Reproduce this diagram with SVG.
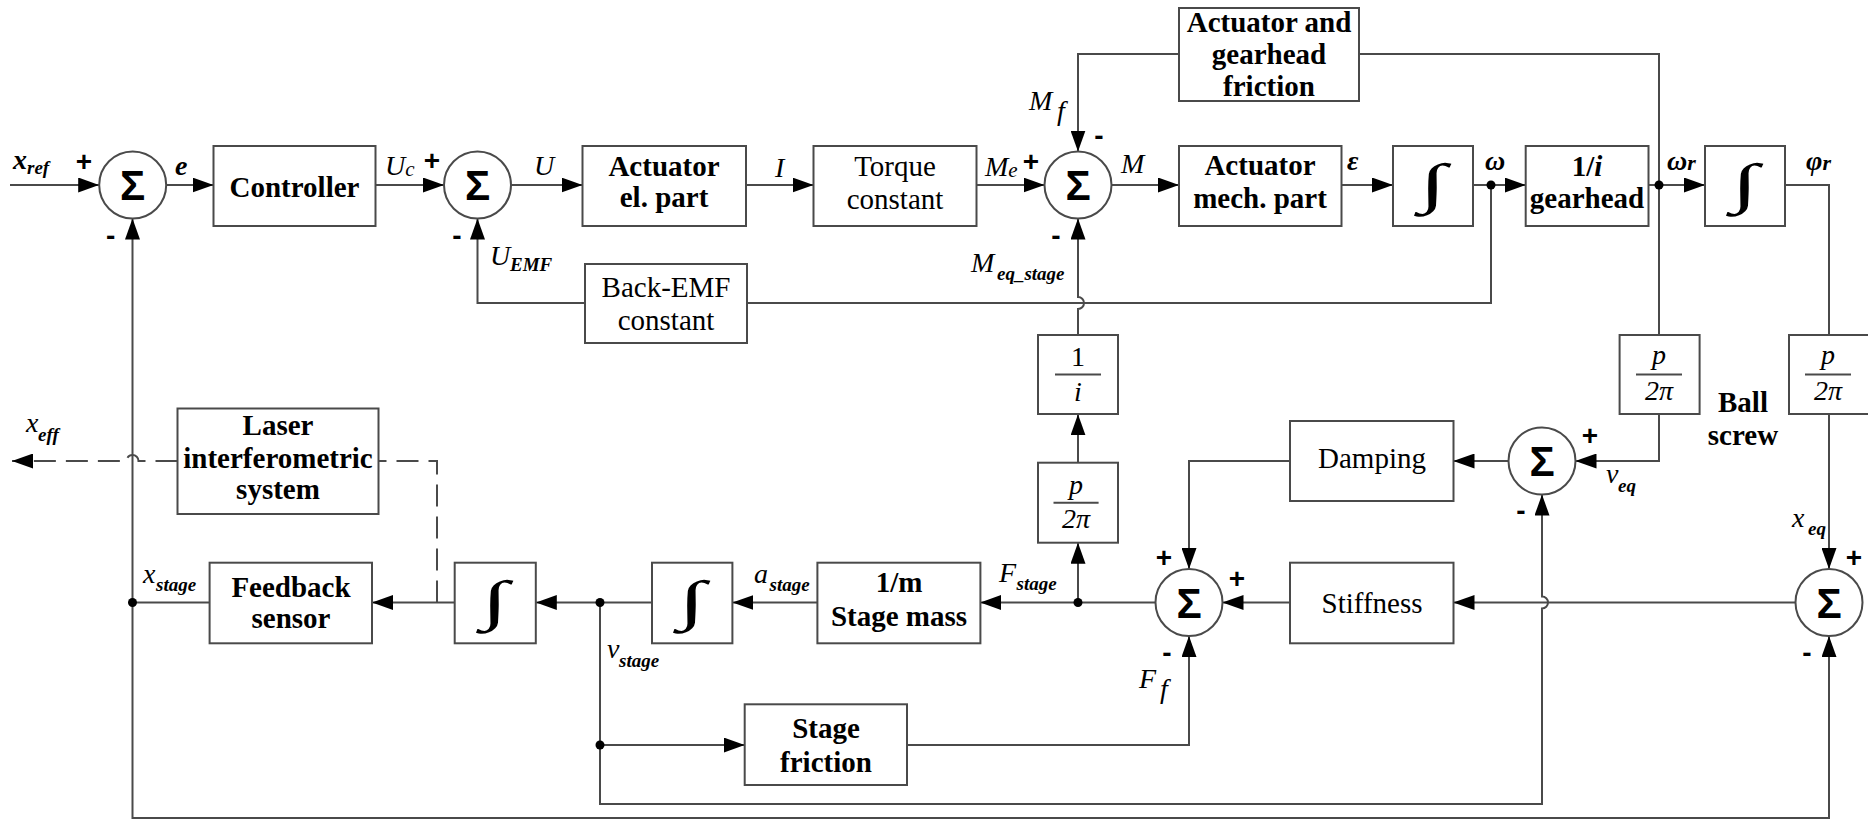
<svg xmlns="http://www.w3.org/2000/svg" width="1868" height="820" viewBox="0 0 1868 820">
<style>
.ln{fill:none;stroke:#4a4a4a;stroke-width:2}
.ds{fill:none;stroke:#4a4a4a;stroke-width:2;stroke-dasharray:22 10}
.bx{fill:#fff;stroke:#4a4a4a;stroke-width:2}
.bt{font-family:"Liberation Serif",serif;font-weight:bold;font-size:29px;text-anchor:middle;fill:#000}
.nt{font-family:"Liberation Serif",serif;font-size:29px;text-anchor:middle;fill:#000}
.lb{font-family:"Liberation Serif",serif;font-style:italic;font-size:28px;fill:#000}
.lbb{font-family:"Liberation Serif",serif;font-style:italic;font-weight:bold;font-size:28px;fill:#000}
.sb{font-family:"Liberation Serif",serif;font-style:italic;font-weight:bold;font-size:19px;fill:#000}
.pm{font-family:"Liberation Sans",sans-serif;font-weight:bold;font-size:28px;text-anchor:middle;dominant-baseline:central;fill:#000}
.sg{font-family:"Liberation Sans",sans-serif;font-weight:bold;font-size:42px;text-anchor:middle;fill:#000}
.ig{font-family:"Liberation Serif",serif;font-size:55px;text-anchor:middle;fill:#000}
.fr{font-family:"Liberation Serif",serif;font-style:italic;font-size:28px;text-anchor:middle;fill:#000}
.fn{font-family:"Liberation Serif",serif;font-size:28px;text-anchor:middle;fill:#000}
.dot{fill:#000}
</style>
<defs>
<marker id="ar" viewBox="0 0 21 15" refX="21" refY="7.5" markerWidth="21" markerHeight="15" markerUnits="userSpaceOnUse" orient="auto">
<path d="M0,0 L21,7.5 L0,15 z" fill="#000"/>
</marker>
</defs>
<rect width="1868" height="820" fill="#fff"/>

<g id="connectors">
<path class="ln" d="M10,185 H99.2" marker-end="url(#ar)"/>
<path class="ln" d="M166.2,185 H213.5" marker-end="url(#ar)"/>
<path class="ln" d="M375.6,185 H444" marker-end="url(#ar)"/>
<path class="ln" d="M511,185 H582.5" marker-end="url(#ar)"/>
<path class="ln" d="M746,185 H813.5" marker-end="url(#ar)"/>
<path class="ln" d="M976.5,185 H1044.5" marker-end="url(#ar)"/>
<path class="ln" d="M1111.5,185 H1179" marker-end="url(#ar)"/>
<path class="ln" d="M1341.5,185 H1393" marker-end="url(#ar)"/>
<path class="ln" d="M1473,185 H1525.7" marker-end="url(#ar)"/>
<path class="ln" d="M1648.5,185 H1705" marker-end="url(#ar)"/>
<path class="ln" d="M1785,185 H1829 V335"/>
<path class="ln" d="M1659,185 V54 H1359"/>
<path class="ln" d="M1179,54 H1078 V151.5" marker-end="url(#ar)"/>
<path class="ln" d="M1659,185 V335"/>
<path class="ln" d="M1659,414 V461 H1575.5" marker-end="url(#ar)"/>
<path class="ln" d="M1829,414 V569" marker-end="url(#ar)"/>
<path class="ln" d="M1491,185 V303 H747"/>
<path class="ln" d="M585,303 H477.5 V218.5" marker-end="url(#ar)"/>
<path class="ln" d="M1078,335 V309 A6 6 0 0 0 1078 297 V218.5" marker-end="url(#ar)"/>
<path class="ln" d="M1078,462.7 V414.3" marker-end="url(#ar)"/>
<path class="ln" d="M1078,602.5 V542.7" marker-end="url(#ar)"/>
<path class="ln" d="M1155.5,602.5 H980.3" marker-end="url(#ar)"/>
<path class="ln" d="M817.4,602.5 H732.4" marker-end="url(#ar)"/>
<path class="ln" d="M652,602.5 H535.8" marker-end="url(#ar)"/>
<path class="ln" d="M454.7,602.5 H372" marker-end="url(#ar)"/>
<path class="ln" d="M209.6,602.5 H132.5"/>
<path class="ln" d="M132.5,602.5 V218.5" marker-end="url(#ar)"/>
<path class="ln" d="M132.5,602.5 V818 H1829 V636" marker-end="url(#ar)"/>
<path class="ln" d="M600,602.5 V804 H1542 V608.5 A6 6 0 0 0 1542 596.5 V494.5" marker-end="url(#ar)"/>
<path class="ln" d="M600,745 H744.7" marker-end="url(#ar)"/>
<path class="ln" d="M907,745 H1189 V636" marker-end="url(#ar)"/>
<path class="ln" d="M1508.5,461 H1453.5" marker-end="url(#ar)"/>
<path class="ln" d="M1290,461 H1189 V569" marker-end="url(#ar)"/>
<path class="ln" d="M1795.5,602.5 H1453.5" marker-end="url(#ar)"/>
<path class="ln" d="M1290,602.5 H1222.5" marker-end="url(#ar)"/>
<path class="ds" d="M437,602.5 V461 H379"/>
<path class="ds" d="M177.5,461 H138.5 A6 6 0 0 0 126.5 461 H12" marker-end="url(#ar)"/>
<circle class="dot" cx="1491" cy="185" r="4.5"/>
<circle class="dot" cx="1659" cy="185" r="4.5"/>
<circle class="dot" cx="1078" cy="602.5" r="4.5"/>
<circle class="dot" cx="600" cy="602.5" r="4.5"/>
<circle class="dot" cx="600" cy="745" r="4.5"/>
<circle class="dot" cx="132.5" cy="602.5" r="4.5"/>
</g>

<g id="sum1"><circle class="bx" cx="132.7" cy="185" r="33.5"/><text class="sg" x="132.7" y="200">Σ</text></g>
<g id="sum2"><circle class="bx" cx="477.5" cy="185" r="33.5"/><text class="sg" x="477.5" y="200">Σ</text></g>
<g id="sum3"><circle class="bx" cx="1078" cy="185" r="33.5"/><text class="sg" x="1078" y="200">Σ</text></g>
<g id="sumV"><circle class="bx" cx="1542" cy="461" r="33.5"/><text class="sg" x="1542" y="476">Σ</text></g>
<g id="sumF"><circle class="bx" cx="1189" cy="602.5" r="33.5"/><text class="sg" x="1189" y="617.5">Σ</text></g>
<g id="sumX"><circle class="bx" cx="1829" cy="602.5" r="33.5"/><text class="sg" x="1829" y="617.5">Σ</text></g>

<g id="controller"><rect class="bx" x="213.5" y="146" width="162" height="80"/><text class="bt" x="294.5" y="197">Controller</text></g>
<g id="act_el"><rect class="bx" x="582.5" y="146" width="163.5" height="80"/><text class="bt" x="664" y="176">Actuator</text><text class="bt" x="664" y="207">el. part</text></g>
<g id="torque"><rect class="bx" x="813.5" y="146" width="163" height="80"/><text class="nt" x="895" y="176">Torque</text><text class="nt" x="895" y="209">constant</text></g>
<g id="friction"><rect class="bx" x="1179" y="8" width="180" height="93"/><text class="bt" x="1269" y="32">Actuator and</text><text class="bt" x="1269" y="64">gearhead</text><text class="bt" x="1269" y="96">friction</text></g>
<g id="act_mech"><rect class="bx" x="1179" y="146" width="162.5" height="80"/><text class="bt" x="1260" y="175">Actuator</text><text class="bt" x="1260" y="208">mech. part</text></g>
<g id="int1"><rect class="bx" x="1393" y="146" width="80" height="80"/><text class="ig" transform="translate(1433,202) scale(1.8,1)">∫</text></g>
<g id="gearhead"><rect class="bx" x="1525.7" y="146" width="122.8" height="80"/><text class="bt" x="1587" y="176">1/<tspan font-style="italic">i</tspan></text><text class="bt" x="1587" y="208">gearhead</text></g>
<g id="int2"><rect class="bx" x="1705" y="146" width="80" height="80"/><text class="ig" transform="translate(1745,202) scale(1.8,1)">∫</text></g>
<g id="backemf"><rect class="bx" x="585" y="264" width="162" height="79"/><text class="nt" x="666" y="297">Back-EMF</text><text class="nt" x="666" y="330">constant</text></g>
<g id="inv_i"><rect class="bx" x="1038" y="335" width="80" height="79"/><text class="fn" x="1078" y="366">1</text><line class="ln" x1="1055" y1="374.5" x2="1101" y2="374.5"/><text class="fr" x="1078" y="401">i</text></g>
<g id="p2pi_3"><rect class="bx" x="1038" y="462.7" width="80" height="80"/><text class="fr" x="1076" y="494">p</text><line class="ln" x1="1053.5" y1="502.7" x2="1098.6" y2="502.7"/><text class="fr" x="1076" y="528">2π</text></g>
<g id="p2pi_1"><rect class="bx" x="1619.6" y="335" width="80" height="79"/><text class="fr" x="1659" y="364">p</text><line class="ln" x1="1636" y1="374.5" x2="1682" y2="374.5"/><text class="fr" x="1659" y="400">2π</text></g>
<g id="p2pi_2"><rect class="bx" x="1789" y="335" width="80" height="79"/><text class="fr" x="1828" y="364">p</text><line class="ln" x1="1805" y1="374.5" x2="1851" y2="374.5"/><text class="fr" x="1828" y="400">2π</text></g>
<g id="ballscrew"><text class="bt" x="1743" y="412">Ball</text><text class="bt" x="1743" y="445">screw</text></g>
<g id="damping"><rect class="bx" x="1290" y="421" width="163.5" height="80"/><text class="nt" x="1372" y="468">Damping</text></g>
<g id="stiffness"><rect class="bx" x="1290" y="562.7" width="163.5" height="80.6"/><text class="nt" x="1372" y="613">Stiffness</text></g>
<g id="stagemass"><rect class="bx" x="817.4" y="562.7" width="163" height="80.6"/><text class="bt" x="899" y="592">1/m</text><text class="bt" x="899" y="626">Stage mass</text></g>
<g id="int3"><rect class="bx" x="652" y="562.7" width="80.4" height="80.6"/><text class="ig" transform="translate(692,619) scale(1.8,1)">∫</text></g>
<g id="int4"><rect class="bx" x="454.7" y="562.7" width="81.1" height="80.6"/><text class="ig" transform="translate(495,619) scale(1.8,1)">∫</text></g>
<g id="feedback"><rect class="bx" x="209.6" y="562.7" width="162.4" height="80.6"/><text class="bt" x="291" y="596.7">Feedback</text><text class="bt" x="291" y="628">sensor</text></g>
<g id="laser"><rect class="bx" x="177.5" y="408.5" width="201" height="105.5"/><text class="bt" x="278" y="435">Laser</text><text class="bt" x="278" y="468">interferometric</text><text class="bt" x="278" y="499">system</text></g>
<g id="stagefriction"><rect class="bx" x="744.7" y="704.3" width="162.3" height="80.7"/><text class="bt" x="826" y="738">Stage</text><text class="bt" x="826" y="771.5">friction</text></g>

<g id="labels">
<text class="lbb" x="13" y="169">x<tspan class="sb" dy="5">ref</tspan></text>
<text class="lbb" x="175" y="175">e</text>
<text class="lb" x="385" y="175">U<tspan font-size="21" dy="1">c</tspan></text>
<text class="lb" x="534" y="175">U</text>
<text class="lb" x="490" y="265">U</text><text class="sb" x="510" y="271">EMF</text>
<text class="lb" x="775" y="177">I</text>
<text class="lb" x="985" y="176">M<tspan font-size="21" dy="1">e</tspan></text>
<text class="lb" x="1029" y="110">M</text><text class="lb" x="1057" y="120" font-size="21">f</text>
<text class="lb" x="1121" y="173">M</text>
<text class="lb" x="971" y="272">M</text><text class="sb" x="997" y="280">eq_stage</text>
<text class="lbb" x="1347" y="170">ε</text>
<text class="lbb" x="1485" y="170">ω</text>
<text class="lbb" x="1667" y="170">ω<tspan font-size="22" dy="0">r</tspan></text>
<text class="lbb" x="1806" y="170">φ<tspan font-size="22" dy="0">r</tspan></text>
<text class="lb" x="26" y="432">x</text><text class="sb" x="38" y="441">eff</text>
<text class="lb" x="143" y="583">x</text><text class="sb" x="156" y="590.5">stage</text>
<text class="lb" x="754" y="583">a</text><text class="sb" x="769.5" y="591">stage</text>
<text class="lb" x="999" y="581.5">F</text><text class="sb" x="1016.5" y="590">stage</text>
<text class="lb" x="607" y="658">v</text><text class="sb" x="619" y="666.5">stage</text>
<text class="lb" x="1139" y="688">F</text><text class="lb" x="1160" y="698" font-size="21">f</text>
<text class="lb" x="1606" y="483">v</text><text class="sb" x="1618" y="492">eq</text>
<text class="lb" x="1792" y="527">x</text><text class="sb" x="1808" y="535">eq</text>
</g>

<g id="signs">
<text class="pm" x="84" y="161">+</text>
<text class="pm" x="110.7" y="235">-</text>
<text class="pm" x="432" y="160">+</text>
<text class="pm" x="457" y="235">-</text>
<text class="pm" x="1031" y="161">+</text>
<text class="pm" x="1099" y="135">-</text>
<text class="pm" x="1056" y="235">-</text>
<text class="pm" x="1590" y="435">+</text>
<text class="pm" x="1521" y="510">-</text>
<text class="pm" x="1164" y="557">+</text>
<text class="pm" x="1237" y="578">+</text>
<text class="pm" x="1167" y="652">-</text>
<text class="pm" x="1854" y="557">+</text>
<text class="pm" x="1807" y="652">-</text>
</g>
</svg>
